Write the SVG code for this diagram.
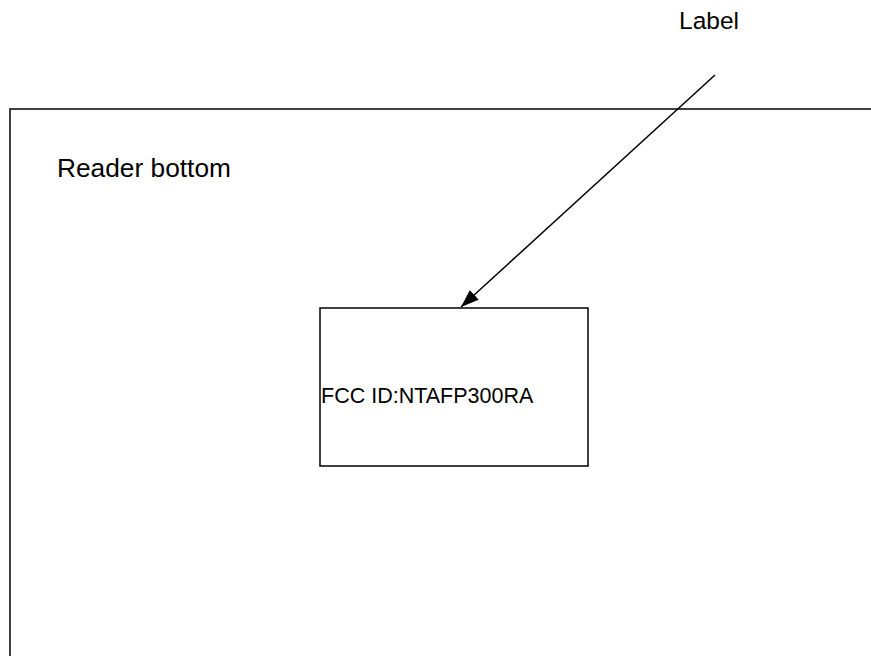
<svg xmlns="http://www.w3.org/2000/svg" width="871" height="656" viewBox="0 0 871 656">
<style>
.box{fill:none;stroke:#000;stroke-width:1.5}
.t{font-family:"Liberation Sans",Arial,sans-serif;fill:#000}
.conn{stroke:#000;stroke-width:1.5;fill:none}
</style>
<defs>
<marker id="ah" markerUnits="userSpaceOnUse" markerWidth="20" markerHeight="14" refX="18" refY="6.5" orient="auto" viewBox="0 0 20 13">
<path d="M0,0 L18,6.5 L0,13 Z" fill="#000"/>
</marker>
</defs>
<rect width="871" height="656" fill="#fff"/>
<g id="reader">
<path class="box" d="M10,660 V109 H875"/>
<text class="t" x="57" y="177" font-size="26.3">Reader bottom</text>
</g>
<g id="fcc">
<rect class="box" x="320" y="308" width="268" height="158"/>
<text class="t" x="321" y="403" font-size="21.5">FCC ID:NTAFP300RA</text>
</g>
<g id="label">
<text class="t" x="679" y="29" font-size="24.5">Label</text>
</g>
<g id="connectors">
<line class="conn" x1="715" y1="75" x2="461" y2="307" marker-end="url(#ah)"/>
</g>
</svg>
